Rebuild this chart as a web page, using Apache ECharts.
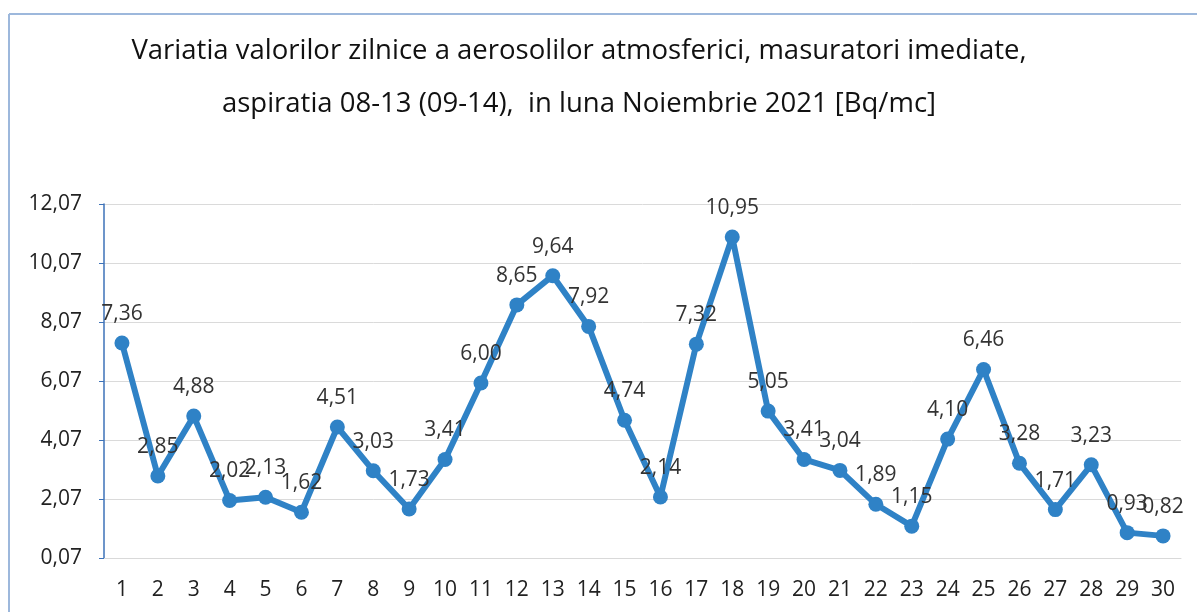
<!DOCTYPE html>
<html>
<head>
<meta charset="utf-8">
<script src="https://cdn.jsdelivr.net/npm/echarts@6/dist/echarts.min.js"></script>
<style>
html,body{margin:0;padding:0;background:#fff;}
#c{width:1197px;height:612px;}
</style>
</head>
<body>
<div id="c"></div>
<script>
const days = ['1','2','3','4','5','6','7','8','9','10','11','12','13','14','15','16','17','18','19','20','21','22','23','24','25','26','27','28','29','30'];
const values = [7.36,2.85,4.88,2.02,2.13,1.62,4.51,3.03,1.73,3.41,6.00,8.65,9.64,7.92,4.74,2.14,7.32,10.95,5.05,3.41,3.04,1.89,1.15,4.10,6.46,3.28,1.71,3.23,0.93,0.82];
const titleLines = ['Variatia valorilor zilnice a aerosolilor atmosferici, masuratori imediate,', 'aspiratia 08-13 (09-14),  in luna Noiembrie 2021 [Bq/mc]'];
const yMin = 0.07, yMax = 12.07, yStep = 2;

const fmt = v => Number(v).toFixed(2).replace('.', ',');
const chart = echarts.init(document.getElementById('c'));
chart.setOption({
  backgroundColor: '#ffffff',
  animation: false,
  textStyle: {fontFamily: 'Open Sans'},
  title: {
    text: titleLines.join('\n'),
    left: 574, textAlign: 'center', top: 20,
    textStyle: {fontFamily: 'Open Sans', fontSize: 27.5, fontWeight: 'normal', color: '#111', lineHeight: 53}
  },
  graphic: [
    {type: 'line', shape: {x1: 9, y1: 14, x2: 9, y2: 612}, style: {stroke: '#9db8dc', lineWidth: 2}},
    {type: 'line', shape: {x1: 9, y1: 14, x2: 1197, y2: 14}, style: {stroke: '#9db8dc', lineWidth: 2}}
  ],
  grid: {left: 104, right: 16, top: 204, bottom: 54},
  xAxis: {
    type: 'category', data: days, boundaryGap: true,
    axisLine: {show: true, lineStyle: {color: '#d9d9d9', width: 1}},
    axisTick: {show: false},
    axisLabel: {color: '#222', fontSize: 21, margin: 22, interval: 0}
  },
  yAxis: {
    type: 'value', min: yMin, max: yMax, interval: yStep,
    axisLine: {show: true, lineStyle: {color: '#3d72b8', width: 1.5}},
    axisTick: {show: true, length: 5, lineStyle: {color: '#3d72b8'}},
    axisLabel: {color: '#222', fontSize: 21, margin: 22, formatter: fmt},
    splitLine: {show: true, lineStyle: {color: '#dadada', width: 1}}
  },
  series: [{
    type: 'line', data: values,
    lineStyle: {color: '#2f82c6', width: 6},
    itemStyle: {color: '#2f82c6'},
    symbol: 'circle', symbolSize: 15,
    label: {show: true, position: 'top', distance: 11, fontSize: 21, color: '#333', formatter: p => fmt(p.value)}
  }]
});
</script>
</body>
</html>
